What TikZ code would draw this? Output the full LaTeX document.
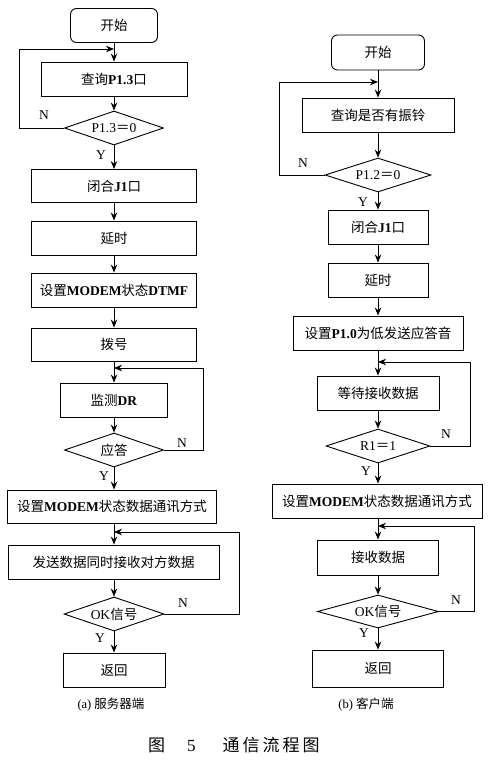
\documentclass[tikz,border=0pt]{standalone}
\usepackage{fontspec}
\setmainfont{Liberation Serif}
\newfontfamily\cjk{Noto Sans CJK SC}
\usetikzlibrary{shapes.geometric,arrows.meta}
\newcommand\zh[1]{{\cjk #1}}
\begin{document}
\begin{tikzpicture}[x=1pt,y=-1pt,
  every node/.style={font=\fontsize{13.5pt}{15pt}\selectfont},
  box/.style={draw, line width=0.9pt, minimum height=34pt, inner sep=0pt},
  rbox/.style={box, rounded corners=6pt},
  dia/.style={draw, diamond, line width=0.9pt, inner sep=0pt},
  arr/.style={line width=0.9pt, -{Stealth[length=8pt,width=6.5pt]}},
  yn/.style={font=\fontsize{13.5pt}{15pt}\selectfont, inner sep=0pt}]
\useasboundingbox (0,0) rectangle (490,761);
\fill[white] (0,0) rectangle (490,761);

% ---------- left: server ----------
\node[rbox, minimum width=87pt] (sa) at (114,25.5) {\zh{开始}};
\node[box, minimum width=146pt] (sb) at (114,79) {\zh{查询}\textbf{P1.3}\zh{口}};
\node[dia, minimum width=99pt, minimum height=34pt, label={center:P1.3\zh{＝}0}] (sc) at (114,128) {};
\node[box, minimum width=165pt, minimum height=33pt] (sd) at (114,186) {\zh{闭合}\textbf{J1}\zh{口}};
\node[box, minimum width=165pt] (se) at (114,238) {\zh{延时}};
\node[box, minimum width=165pt] (sf) at (114,290) {\zh{设置}\textbf{MODEM}\zh{状态}\textbf{DTMF}};
\node[box, minimum width=165pt, minimum height=33pt] (sg) at (114,344.5) {\zh{拨号}};
\node[box, minimum width=107pt] (sh) at (114,400) {\zh{监测}\textbf{DR}};
\node[dia, minimum width=99pt, minimum height=34pt, label={center:\zh{应答}}] (si) at (114,450) {};
\node[box, minimum width=209pt, minimum height=33pt] (sj) at (112,506.5) {\zh{设置}\textbf{MODEM}\zh{状态数据通讯方式}};
\node[box, minimum width=211pt] (sk) at (113.5,562) {\zh{发送数据同时接收对方数据}};
\node[dia, minimum width=100pt, minimum height=34pt, label={center:OK\zh{信号}}] (sl) at (114,614) {};
\node[box, minimum width=102pt] (sm) at (114,670) {\zh{返回}};

\draw[arr] (sa) -- (sb);
\draw[arr] (sb) -- (sc);
\draw[arr] (sc) -- (sd);
\draw[arr] (sd) -- (se);
\draw[arr] (se) -- (sf);
\draw[arr] (sf) -- (sg);
\draw[arr] (sg) -- (sh);
\draw[arr] (sh) -- (si);
\draw[arr] (si) -- (sj.north -| si);
\draw[arr] (sj.south -| si) -- (sk.north -| si);
\draw[arr] (sk.south -| sl) -- (sl);
\draw[arr] (sl) -- (sm);

\coordinate (sj1) at (114,49);
\coordinate (sj2) at (114,368);
\coordinate (sj3) at (114,532);
\draw[arr] (sc.west) -- (19,128) -- (19,49) -- (sj1);
\draw[arr] (si.east) -- (203,450) -- (203,368) -- (sj2);
\draw[arr] (sl.east) -- (239,614) -- (239,532) -- (sj3);

\node[yn] at (44,115) {N};
\node[yn] at (101,155) {Y};
\node[yn] at (182,443) {N};
\node[yn] at (104,476) {Y};
\node[yn] at (183,603) {N};
\node[yn] at (100,638) {Y};

\node[font=\fontsize{12.5pt}{14pt}\selectfont] (capa) at (111,705) {(a) \zh{服务器端}};

% ---------- right: client ----------
\node[rbox, minimum width=93pt, minimum height=35pt] (ca) at (378,52.5) {\zh{开始}};
\node[box, minimum width=152pt] (cb) at (378,115) {\zh{查询是否有振铃}};
\node[dia, minimum width=106pt, minimum height=34pt, label={center:P1.2\zh{＝}0}] (cc) at (378,175) {};
\node[box, minimum width=100pt] (cd) at (378,227) {\zh{闭合}\textbf{J1}\zh{口}};
\node[box, minimum width=100pt] (ce) at (378,280) {\zh{延时}};
\node[box, minimum width=170pt] (cf) at (378,333) {\zh{设置}\textbf{P1.0}\zh{为低发送应答音}};
\node[box, minimum width=122pt] (cg) at (378,393) {\zh{等待接收数据}};
\node[dia, minimum width=104pt, minimum height=34pt, label={center:R1\zh{＝}1}] (ch) at (378,446) {};
\node[box, minimum width=210pt] (ci) at (377,501) {\zh{设置}\textbf{MODEM}\zh{状态数据通讯方式}};
\node[box, minimum width=121pt, minimum height=35pt] (cj) at (378,557.5) {\zh{接收数据}};
\node[dia, minimum width=121pt, minimum height=33pt, label={center:OK\zh{信号}}] (ck) at (378,611.5) {};
\node[box, minimum width=131pt, minimum height=37pt] (cl) at (378,668.5) {\zh{返回}};

\draw[arr] (ca) -- (cb);
\draw[arr] (cb) -- (cc);
\draw[arr] (cc) -- (cd);
\draw[arr] (cd) -- (ce);
\draw[arr] (ce) -- (cf);
\draw[arr] (cf) -- (cg);
\draw[arr] (cg) -- (ch);
\draw[arr] (ch) -- (ci.north -| ch);
\draw[arr] (ci.south -| ch) -- (cj);
\draw[arr] (cj) -- (ck);
\draw[arr] (ck) -- (cl);

\coordinate (cj1) at (378,82);
\coordinate (cj2) at (378,362);
\coordinate (cj3) at (378,526);
\draw[arr] (cc.west) -- (279,175) -- (279,82) -- (cj1);
\draw[arr] (ch.east) -- (470,446) -- (470,362) -- (cj2);
\draw[arr] (ck.east) -- (474,611.5) -- (474,526) -- (cj3);

\node[yn] at (303,163) {N};
\node[yn] at (363,202) {Y};
\node[yn] at (446,434) {N};
\node[yn] at (366,471) {Y};
\node[yn] at (456,600) {N};
\node[yn] at (364,633) {Y};

\node[font=\fontsize{12.5pt}{14pt}\selectfont] (capb) at (366,705) {(b) \zh{客户端}};

% ---------- figure title ----------
\node[font=\fontsize{17pt}{19pt}\selectfont, anchor=west, inner sep=0pt] (title) at (148,745)
  {\zh{图}\hspace{22pt}5\hspace{27pt}\zh{通\hspace{3pt}信\hspace{3pt}流\hspace{3pt}程\hspace{3pt}图}};
\end{tikzpicture}
\end{document}
